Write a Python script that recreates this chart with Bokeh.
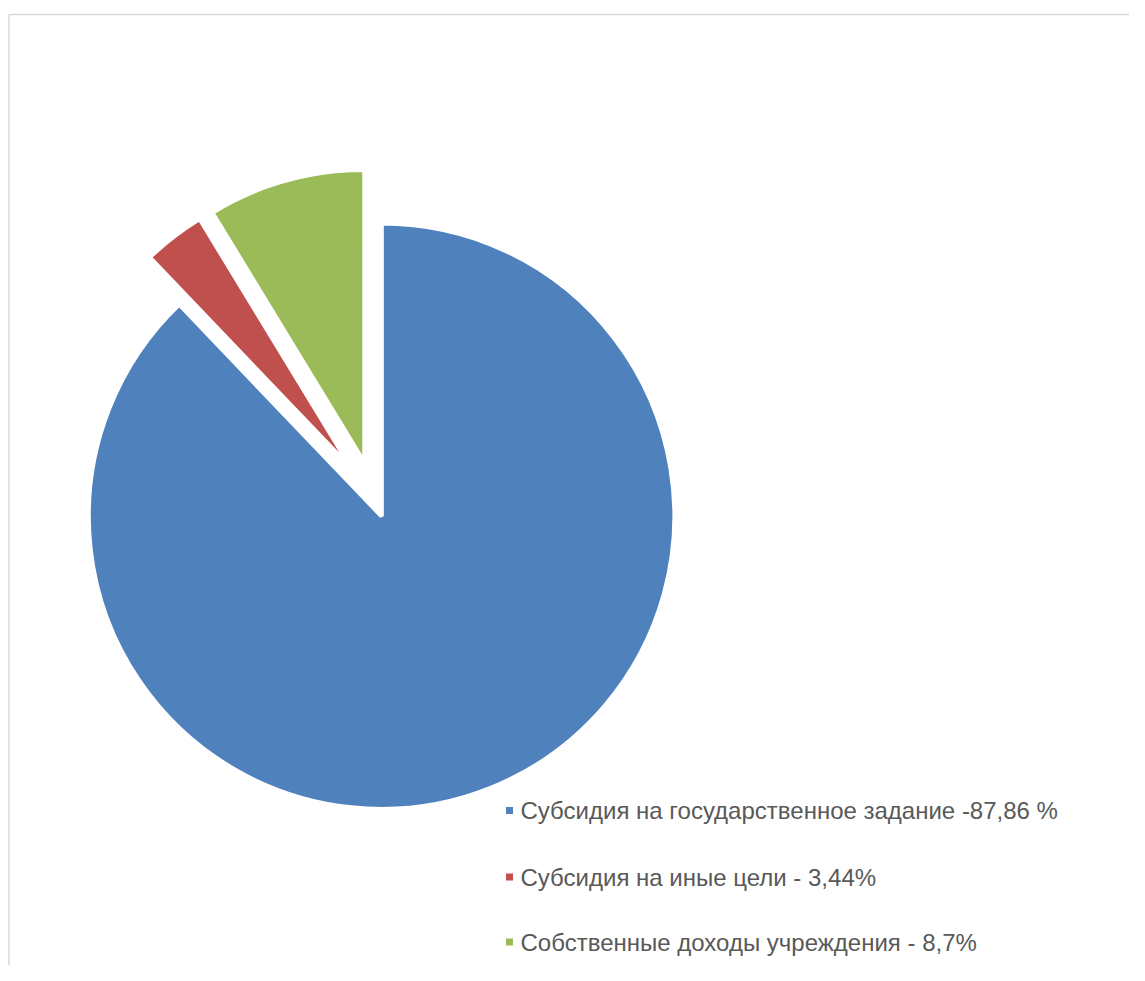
import math
from bokeh.plotting import figure
from bokeh.models import Range1d, ColumnDataSource
from bokeh.core.properties import value
from bokeh.embed import file_html
from bokeh.resources import INLINE

# ---- data ----
labels = [
    "Субсидия на государственное задание -87,86 %",
    "Субсидия на иные цели - 3,44%",
    "Собственные доходы учреждения - 8,7%",
]
shares = [87.86, 3.44, 8.70]
colors = ["#4F81BD", "#C0504D", "#9BBB59"]

# ---- layout (pixel-like units; x = image x, y = 973 - image y) ----
W, H = 1129, 965
cx, cy = 374, 475
R = 293
explode = [19, 37, 37]

p = figure(width=W, height=H, output_backend="svg", toolbar_location=None,
           x_range=Range1d(0, W), y_range=Range1d(8, 8 + H),
           min_border=0, outline_line_color=None)
p.axis.visible = False
p.grid.visible = False
p.background_fill_color = "white"
p.border_fill_color = "white"

# chart area border
p.line(x=[8.5, 8.5, 1300], y=[-50, 973 - 14, 973 - 14], line_color="#d9d9d9", line_width=1.5)

total = sum(shares)
cum = 0.0
xs, ys, sa, ea = [], [], [], []
for s, e in zip(shares, explode):
    f0 = cum / total
    f1 = (cum + s) / total
    fm = (f0 + f1) / 2
    phi = math.radians(90 - 360 * fm)
    xs.append(cx + e * math.cos(phi))
    ys.append(cy + e * math.sin(phi))
    sa.append(math.radians(90 - 360 * f0))
    ea.append(math.radians(90 - 360 * f1))
    cum += s

src = ColumnDataSource(dict(x=xs, y=ys, sa=sa, ea=ea, color=colors))
p.wedge(x="x", y="y", radius=R, start_angle="sa", end_angle="ea", direction="clock",
        fill_color="color", line_color="white", line_width=4.5, source=src)

# legend
leg_y = [973 - 810, 973 - 876.5, 973 - 941.5]
p.scatter(x=[509] * 3, y=leg_y, marker="square", size=7, fill_color=colors, line_color=None)
p.text(x=[520] * 3, y=leg_y, text=labels, text_font=value("Liberation Sans"),
       text_font_size="24px", text_color="#595959", text_baseline="middle", text_align="left")

open("out.html", "w").write(file_html(p, INLINE))
